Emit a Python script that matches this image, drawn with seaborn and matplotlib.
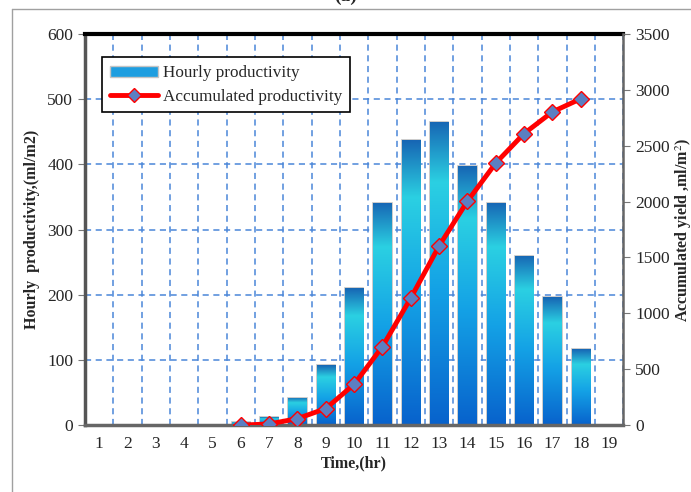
import matplotlib

matplotlib.use("Agg")

import matplotlib.pyplot as plt
import numpy as np
import pandas as pd
import seaborn as sns
from matplotlib.colors import LinearSegmentedColormap
from matplotlib.lines import Line2D
from matplotlib.patches import Patch

hours = [1, 2, 3, 4, 5, 6, 7, 8, 9, 10, 11, 12, 13, 14, 15, 16, 17, 18, 19]
hourly = [0, 0, 0, 0, 0, 4, 12, 42, 92, 210, 341, 437, 465, 397, 341, 260, 196, 116, np.nan]
line_hours = [6, 7, 8, 9, 10, 11, 12, 13, 14, 15, 16, 17, 18]
accumulated = [0, 10, 58, 148, 365, 703, 1137, 1604, 2004, 2345, 2609, 2803, 2920]

sns.set_style("white")
plt.rcParams["font.family"] = ["Liberation Serif", "DejaVu Serif"]
plt.rcParams["mathtext.fontset"] = "stix"

GRID = "#4a86d8"
bar_cmap = LinearSegmentedColormap.from_list(
    "bar", [(0.0, "#1766b4"), (0.2, "#2bd0e2"), (0.55, "#14a2e6"), (1.0, "#0862cc")]
)

fig = plt.figure(figsize=(6.91, 4.92), dpi=100)
ax = fig.add_axes([0.123, 0.136, 0.779, 0.795])

df = pd.DataFrame({"hour": hours, "hourly": hourly})
sns.barplot(data=df, x="hour", y="hourly", native_scale=True, width=0.65,
            color="#1a9ad8", edgecolor="#c4c4c4", linewidth=1.2, ax=ax, zorder=2)

# vertical gradient fill in every bar
grad = np.linspace(0, 1, 256).reshape(-1, 1)
for p in ax.patches:
    h = p.get_height()
    if not np.isfinite(h) or h <= 0:
        continue
    x0 = p.get_x()
    w = p.get_width()
    im = ax.imshow(grad, cmap=bar_cmap, extent=[x0, x0 + w, 0, h], aspect="auto",
                   origin="upper", zorder=2.5)
    im.set_clip_path(p)

ax.set_xlim(0.5, 19.5)
ax.set_ylim(0, 600)
ax.set_xticks(hours)
ax.set_xticks(np.arange(0.5, 20, 1), minor=True)
ax.set_yticks(range(0, 700, 100))
ax.tick_params(axis="x", which="major", length=0, labelsize=12.5, pad=8)
ax.tick_params(axis="x", which="minor", length=5, color="#777777", direction="out")
ax.tick_params(axis="y", length=5, color="#777777", direction="out", labelsize=12.5, left=True)
ax.grid(False)
ax.set_axisbelow(True)
ax.xaxis.grid(True, which="minor", color=GRID, linestyle=(0, (4, 3)), linewidth=1.1)
ax.yaxis.grid(True, which="major", color=GRID, linestyle=(0, (4, 3)), linewidth=1.1)
ax.set_xlabel("Time,(hr)", fontsize=11.5, fontweight="bold", labelpad=2)
ax.set_ylabel("Hourly  productivity,(ml/m2)", fontsize=11.5, fontweight="bold", labelpad=5)

ax.spines["top"].set_color("black")
ax.spines["top"].set_linewidth(3)
ax.spines["left"].set_color("#555555")
ax.spines["left"].set_linewidth(2.5)
ax.spines["bottom"].set_color("#666666")
ax.spines["bottom"].set_linewidth(2.5)
ax.spines["right"].set_visible(False)

ax2 = ax.twinx()
sns.lineplot(x=line_hours, y=accumulated, ax=ax2, color="red", linewidth=3.5,
             marker="D", markersize=8, markerfacecolor="#5b7fc2",
             markeredgecolor="red", markeredgewidth=1)
ax2.set_ylim(0, 3500)
ax2.set_yticks(range(0, 4000, 500))
ax2.tick_params(axis="y", length=5, color="#777777", direction="out", labelsize=12.5, right=True)
ax2.set_ylabel("Accumulated yield ,ml/m$^2$)", fontsize=11.5, fontweight="bold", labelpad=3)
for side in ["top", "left", "bottom"]:
    ax2.spines[side].set_visible(False)
ax2.spines["right"].set_color("#666666")
ax2.spines["right"].set_linewidth(1.8)

handles = [
    Patch(facecolor="#1e9ee0", edgecolor="#c4c4c4"),
    Line2D([], [], color="red", linewidth=3.5, marker="D", markersize=7,
           markerfacecolor="#5b7fc2", markeredgecolor="red"),
]
leg = ax2.legend(handles, ["Hourly productivity", "Accumulated productivity"],
                 loc="upper left", bbox_to_anchor=(0.032, 0.94), borderaxespad=0,
                 fontsize=12.3, fancybox=False, framealpha=1, edgecolor="black",
                 handlelength=2.8, handleheight=0.6, labelspacing=0.45, handletextpad=0.3,
                 borderpad=0.45)
leg.get_frame().set_linewidth(1.2)

fig.text(0.5, 0.99, "(a)", ha="center", va="bottom", fontsize=14, fontweight="bold")
fig.add_artist(Line2D([0.0174, 0.0174], [0, 0.9817], color="#a0a0a0", linewidth=1))
fig.add_artist(Line2D([0.0174, 1.0], [0.9817, 0.9817], color="#a0a0a0", linewidth=1))

fig.savefig("out.png", dpi=100)
